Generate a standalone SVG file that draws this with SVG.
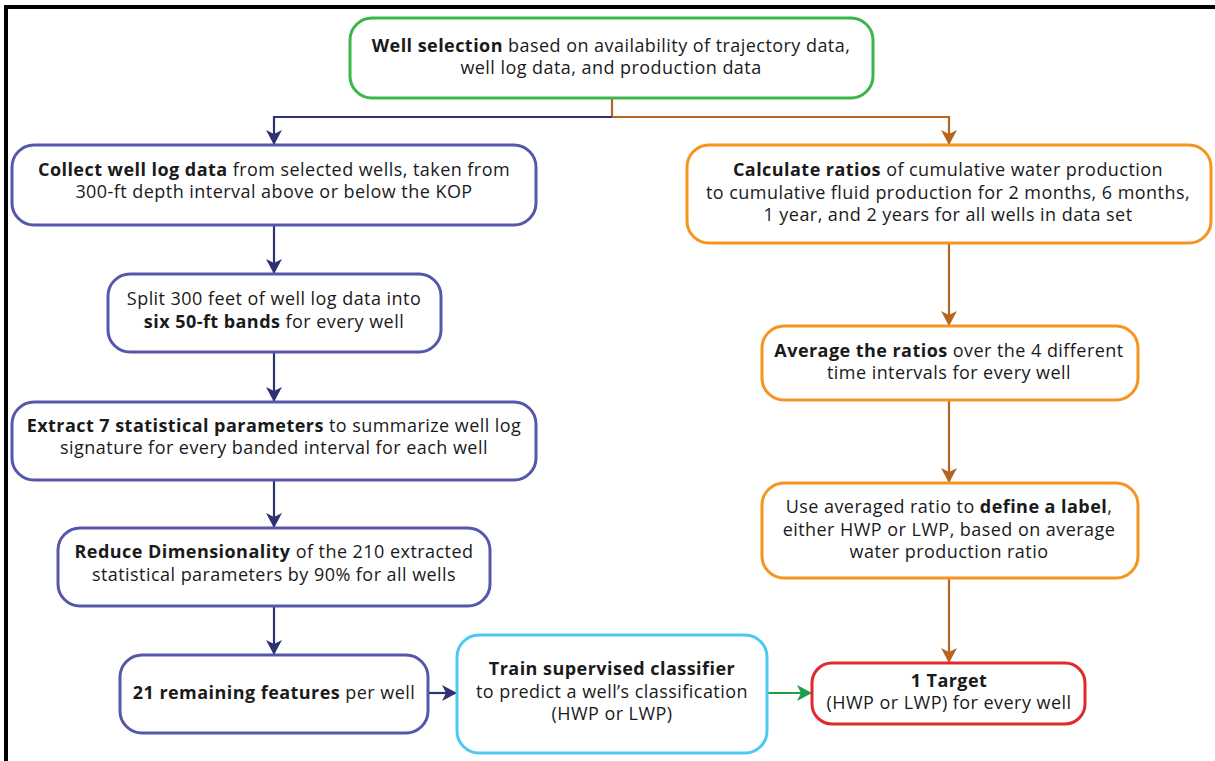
<svg xmlns="http://www.w3.org/2000/svg" width="1215" height="761" viewBox="0 0 1215 761">
<style>
.box{fill:#fff;stroke-width:3}
.g{stroke:#3cb54b}.n{stroke:#5558aa}.o{stroke:#f7941d}.c{stroke:#4dc8f0}.r{stroke:#e02a2a}
text{font-family:"Open Sans","Liberation Sans",sans-serif;font-size:18px;letter-spacing:0.45px;fill:#1a1a1a;text-anchor:middle}
.b{font-weight:bold}
.ln{fill:none;stroke-width:2.2}
.cn{stroke:#2e3273}.cb{stroke:#b5651d}.cg{stroke:#1e9e4a}
</style>
<defs>
<marker id="an" markerUnits="userSpaceOnUse" markerWidth="16" markerHeight="16" refX="15" refY="8" orient="auto"><path d="M0,0 L15,8 L0,16 L4,8 z" fill="#2e3273"/></marker>
<marker id="ab" markerUnits="userSpaceOnUse" markerWidth="16" markerHeight="16" refX="15" refY="8" orient="auto"><path d="M0,0 L15,8 L0,16 L4,8 z" fill="#b5651d"/></marker>
<marker id="ag" markerUnits="userSpaceOnUse" markerWidth="16" markerHeight="16" refX="15" refY="8" orient="auto"><path d="M0,0 L15,8 L0,16 L4,8 z" fill="#1e9e4a"/></marker>
</defs>
<rect width="1215" height="761" fill="#fff"/>
<path d="M6,761 V7 H1215" fill="none" stroke="#000" stroke-width="4"/>
<g id="connectors">
<path class="ln cb" d="M612,98 V117 H949 V145" marker-end="url(#ab)"/>
<path class="ln cn" d="M612,117 H274 V145" marker-end="url(#an)"/>
<path class="ln cn" d="M274,225 V274" marker-end="url(#an)"/>
<path class="ln cn" d="M274,352 V402" marker-end="url(#an)"/>
<path class="ln cn" d="M274,480 V528" marker-end="url(#an)"/>
<path class="ln cn" d="M274,606 V655" marker-end="url(#an)"/>
<path class="ln cn" d="M428,693 H457" marker-end="url(#an)"/>
<path class="ln cb" d="M949,243 V326" marker-end="url(#ab)"/>
<path class="ln cb" d="M949,400 V483" marker-end="url(#ab)"/>
<path class="ln cb" d="M949,578 V663" marker-end="url(#ab)"/>
<path class="ln cg" d="M767,693 H812" marker-end="url(#ag)"/>
</g>
<g id="well-selection">
<rect class="box g" x="350" y="18" width="523" height="80" rx="22"/>
<text x="611" y="52"><tspan class="b">Well selection</tspan> based on availability of trajectory data,</text>
<text x="611" y="74">well log data, and production data</text>
</g>
<g id="collect">
<rect class="box n" x="12" y="145" width="524" height="80" rx="22"/>
<text x="274" y="176"><tspan class="b">Collect well log data</tspan> from selected wells, taken from</text>
<text x="274" y="198">300-ft depth interval above or below the KOP</text>
</g>
<g id="split">
<rect class="box n" x="108" y="274" width="333" height="78" rx="22"/>
<text x="274" y="305">Split 300 feet of well log data into</text>
<text x="274" y="328"><tspan class="b">six 50-ft bands</tspan> for every well</text>
</g>
<g id="extract">
<rect class="box n" x="12" y="402" width="524" height="78" rx="22"/>
<text x="274" y="432"><tspan class="b">Extract 7 statistical parameters</tspan> to summarize well log</text>
<text x="274" y="454">signature for every banded interval for each well</text>
</g>
<g id="reduce">
<rect class="box n" x="58" y="528" width="432" height="78" rx="22"/>
<text x="274" y="558"><tspan class="b">Reduce Dimensionality</tspan> of the 210 extracted</text>
<text x="274" y="581">statistical parameters by 90% for all wells</text>
</g>
<g id="remaining">
<rect class="box n" x="120" y="655" width="308" height="78" rx="22"/>
<text x="274" y="699"><tspan class="b">21 remaining features</tspan> per well</text>
</g>
<g id="train">
<rect class="box c" x="457" y="635" width="310" height="118" rx="22"/>
<text x="612" y="675" class="b">Train supervised classifier</text>
<text x="612" y="698">to predict a well’s classification</text>
<text x="612" y="720">(HWP or LWP)</text>
</g>
<g id="calculate">
<rect class="box o" x="687" y="145" width="524" height="98" rx="22"/>
<text x="948" y="176"><tspan class="b">Calculate ratios</tspan> of cumulative water production</text>
<text x="948" y="199">to cumulative fluid production for 2 months, 6 months,</text>
<text x="948" y="221">1 year, and 2 years for all wells in data set</text>
</g>
<g id="average">
<rect class="box o" x="762" y="326" width="376" height="74" rx="22"/>
<text x="949" y="357"><tspan class="b">Average the ratios</tspan> over the 4 different</text>
<text x="949" y="379">time intervals for every well</text>
</g>
<g id="define-label">
<rect class="box o" x="762" y="483" width="376" height="95" rx="22"/>
<text x="949" y="513">Use averaged ratio to <tspan class="b">define a label</tspan>,</text>
<text x="949" y="536">either HWP or LWP, based on average</text>
<text x="949" y="558">water production ratio</text>
</g>
<g id="target">
<rect class="box r" x="812" y="663" width="273" height="61" rx="20" stroke-width="4"/>
<text x="949" y="687" class="b">1 Target</text>
<text x="949" y="709">(HWP or LWP) for every well</text>
</g>
</svg>
